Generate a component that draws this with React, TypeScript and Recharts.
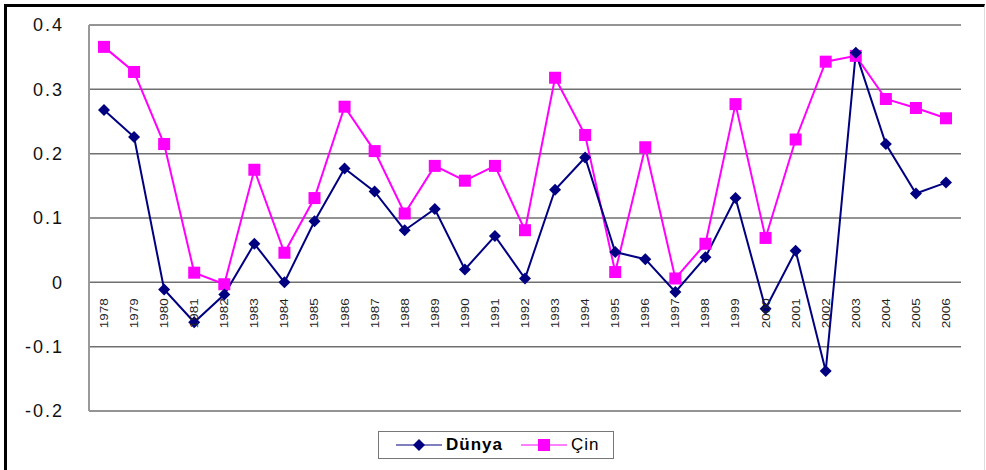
import React from 'react';
import { LineChart, Line, XAxis, YAxis, CartesianGrid, Legend } from 'recharts';

const years = [
    '1978', '1979', '1980', '1981', '1982', '1983', '1984', '1985', '1986', '1987',
    '1988', '1989', '1990', '1991', '1992', '1993', '1994', '1995', '1996', '1997',
    '1998', '1999', '2000', '2001', '2002', '2003', '2004', '2005', '2006',
];

const dunya = [
    0.268, 0.226, -0.011, -0.062, -0.019, 0.06, 0.0, 0.095, 0.177, 0.141,
    0.081, 0.114, 0.02, 0.072, 0.006, 0.144, 0.194, 0.047, 0.036, -0.015,
    0.039, 0.131, -0.041, 0.049, -0.138, 0.357, 0.215, 0.138, 0.155,
];

const cin = [
    0.366, 0.327, 0.215, 0.015, -0.003, 0.175, 0.046, 0.131, 0.273, 0.204,
    0.107, 0.181, 0.158, 0.181, 0.081, 0.318, 0.229, 0.016, 0.21, 0.006,
    0.06, 0.277, 0.069, 0.222, 0.343, 0.352, 0.285, 0.271, 0.255,
];

const yTicks = [-0.2, -0.1, 0, 0.1, 0.2, 0.3, 0.4];

const data = years.map((year, i) => ({ year, dunya: dunya[i], cin: cin[i], base: 0 }));

const FONT = '"Liberation Sans", Arial, sans-serif';
const NAVY = '#000080';
const MAGENTA = '#FF00FF';

const Diamond = (props: any) => {
    const { cx, cy } = props;
    if (cx == null || cy == null) return null;
    return <path d={`M${cx},${cy - 6} L${cx + 6},${cy} L${cx},${cy + 6} L${cx - 6},${cy} Z`} fill={NAVY} />;
};

const Square = (props: any) => {
    const { cx, cy } = props;
    if (cx == null || cy == null) return null;
    return <rect x={cx - 6} y={cy - 6} width={12} height={12} fill={MAGENTA} />;
};

// year labels sit just under the zero line, rotated like Excel does it
const YearLabel = (props: any) => {
    const { x, y, index } = props;
    const ty = y + 16;
    return (
        <text
            x={x}
            y={ty}
            transform={`rotate(-90 ${x} ${ty})`}
            textAnchor="end"
            dominantBaseline="central"
            fontFamily={FONT}
            fontSize={11}
            fill="#222"
            textLength={30}
            lengthAdjust="spacingAndGlyphs"
        >
            {years[index]}
        </text>
    );
};

const LegendBox = () => (
    <div
        style={{
            border: '1px solid #777',
            height: 28,
            display: 'flex',
            alignItems: 'center',
            fontFamily: FONT,
            fontSize: 17,
            color: '#000',
            boxSizing: 'border-box',
        }}
    >
        <svg width={50} height={20} style={{ marginLeft: 17 }}>
            <line x1={0} y1={10} x2={46} y2={10} stroke={NAVY} strokeWidth={1} />
            <path d="M23,4 L29,10 L23,16 L17,10 Z" fill={NAVY} />
        </svg>
        <span style={{ fontWeight: 'bold', letterSpacing: 1 }}>Dünya</span>
        <svg width={50} height={20} style={{ marginLeft: 18 }}>
            <line x1={0} y1={10} x2={46} y2={10} stroke={MAGENTA} strokeWidth={1} />
            <rect x={17} y={4} width={12} height={12} fill={MAGENTA} />
        </svg>
        <span style={{ letterSpacing: 1 }}>Çin</span>
    </div>
);

export default function App() {
    return (
        <div style={{ position: 'absolute', left: 0, top: 0, width: 986, height: 470, background: '#fff' }}>
            <div
                style={{
                    position: 'absolute',
                    left: 4,
                    top: 4,
                    width: 977,
                    height: 466,
                    borderTop: '3px solid #000',
                    borderLeft: '3px solid #000',
                    borderRight: '1px solid #ddd',
                }}
            />
            <LineChart
                width={986}
                height={470}
                data={data}
                margin={{ top: 25, right: 25, left: 0, bottom: 59 }}
                style={{ position: 'absolute', left: 0, top: 0 }}
            >
                <CartesianGrid vertical={false} stroke="#707070" strokeWidth={1.5} />
                <XAxis dataKey="year" hide height={0} padding={{ left: 15, right: 15 }} />
                <YAxis
                    width={89}
                    domain={[-0.2, 0.4]}
                    ticks={yTicks}
                    axisLine={{ stroke: '#999', strokeWidth: 2 }}
                    tickLine={false}
                    tickMargin={19}
                    tickFormatter={(v: number) => (v === 0 ? '0' : String(Math.round(v * 10) / 10))}
                    tick={{ fill: '#111', fontSize: 18, fontFamily: FONT, letterSpacing: 2 }}
                />
                <YAxis
                    yAxisId="frame"
                    orientation="right"
                    width={0}
                    domain={[-0.2, 0.4]}
                    ticks={yTicks}
                    tick={false}
                    tickLine={false}
                    axisLine={{ stroke: '#999', strokeWidth: 2 }}
                />
                <Line
                    dataKey="base"
                    stroke="none"
                    dot={false}
                    activeDot={false}
                    legendType="none"
                    label={YearLabel}
                    isAnimationActive={false}
                />
                <Line
                    name="Çin"
                    dataKey="cin"
                    stroke={MAGENTA}
                    strokeWidth={2}
                    dot={Square}
                    activeDot={false}
                    isAnimationActive={false}
                />
                <Line
                    name="Dünya"
                    dataKey="dunya"
                    stroke={NAVY}
                    strokeWidth={2}
                    dot={Diamond}
                    activeDot={false}
                    isAnimationActive={false}
                />
                <Legend
                    layout="horizontal"
                    verticalAlign="middle"
                    align="center"
                    content={<LegendBox />}
                    wrapperStyle={{ position: 'absolute', left: 378, top: 431, width: 236, bottom: 'auto' }}
                />
            </LineChart>
        </div>
    );
}
